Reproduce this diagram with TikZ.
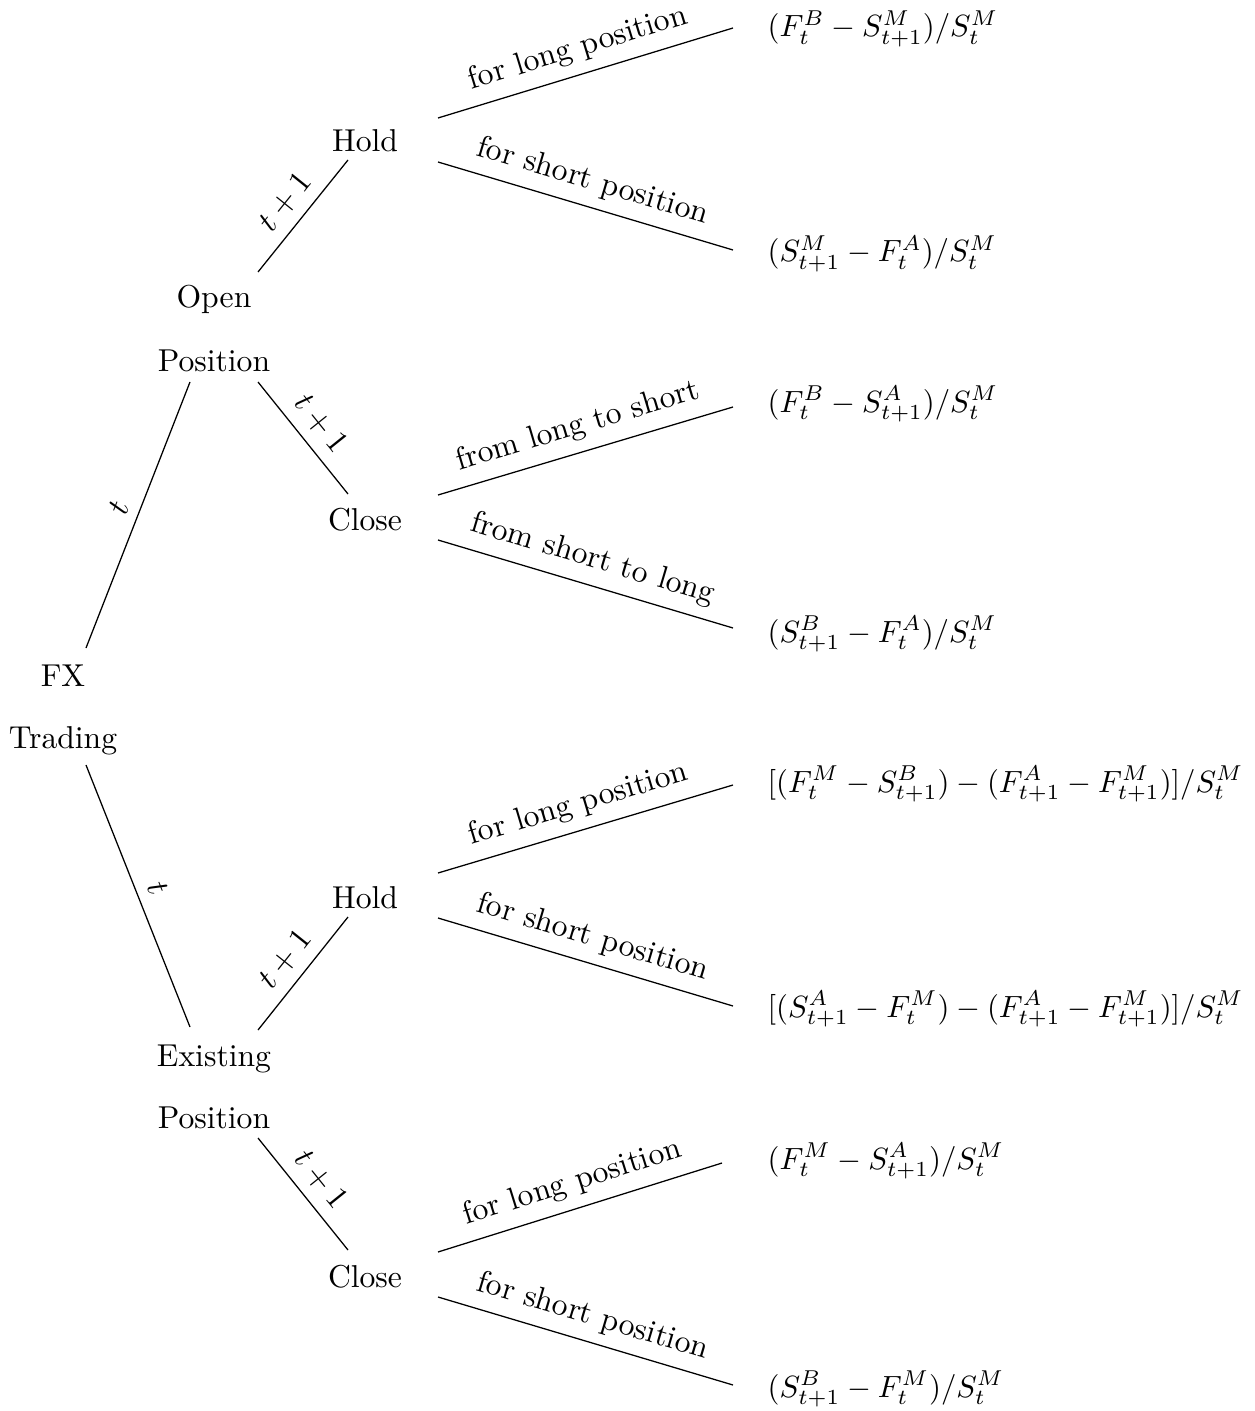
\documentclass[tikz,border=0pt]{standalone}
\usepackage{graphicx}
\newcommand{\lf}[1]{\scalebox{0.97}{$#1$}}
\begin{document}
\begin{tikzpicture}[x=0.316pt,y=-0.316pt,
  txt/.style={anchor=base,inner sep=0pt},
  leaf/.style={anchor=base west,inner sep=0pt},
  edge/.style={draw,line width=0.4pt},
  elab/.style={midway,above,sloped}]
\useasboundingbox (0,0) rectangle (1254,1411);
% inner nodes
\node[txt] (fx) at (63,686) {FX};
\node[txt] (trading) at (63,748) {Trading};
\node[txt] (open) at (214,308) {Open};
\node[txt] (openpos) at (214,372) {Position};
\node[txt] (exist) at (214,1066) {Existing};
\node[txt] (existpos) at (214,1128) {Position};
\node[txt] (hold1) at (365,152) {Hold};
\node[txt] (close1) at (365,530) {Close};
\node[txt] (hold2) at (365,908) {Hold};
\node[txt] (close2) at (365,1287) {Close};
% leaves
\node[leaf] (l1) at (767,37) {\lf{(F^B_t - S^M_{t+1})/S^M_t}};
\node[leaf] (l2) at (767,262) {\lf{(S^M_{t+1} - F^A_t)/S^M_t}};
\node[leaf] (l3) at (767,412) {\lf{(F^B_t - S^A_{t+1})/S^M_t}};
\node[leaf] (l4) at (767,642) {\lf{(S^B_{t+1} - F^A_t)/S^M_t}};
\node[leaf] (l5) at (767,792) {\lf{[(F^M_t - S^B_{t+1}) - (F^A_{t+1} - F^M_{t+1})]/S^M_t}};
\node[leaf] (l6) at (767,1017) {\lf{[(S^A_{t+1} - F^M_t) - (F^A_{t+1} - F^M_{t+1})]/S^M_t}};
\node[leaf] (l7) at (767,1169) {\lf{(F^M_t - S^A_{t+1})/S^M_t}};
\node[leaf] (l8) at (767,1397) {\lf{(S^B_{t+1} - F^M_t)/S^M_t}};
% connector end points
\coordinate (fxN) at (86,648);
\coordinate (trS) at (86,765);
\coordinate (openS) at (190,382);
\coordinate (openE) at (258,272);
\coordinate (openposE) at (258,382);
\coordinate (existN) at (190,1027);
\coordinate (existE) at (258,1030);
\coordinate (existposE) at (258,1138);
\coordinate (hold1W) at (348,160);
\coordinate (close1W) at (348,494);
\coordinate (hold2W) at (348,917);
\coordinate (close2W) at (348,1250);
\coordinate (hold1a) at (438,118);
\coordinate (hold1b) at (438,162);
\coordinate (close1a) at (438,495);
\coordinate (close1b) at (438,540);
\coordinate (hold2a) at (438,873);
\coordinate (hold2b) at (438,918);
\coordinate (close2a) at (438,1252);
\coordinate (close2b) at (438,1297);
\coordinate (l1W) at (733,28);
\coordinate (l2W) at (733,250);
\coordinate (l3W) at (733,407);
\coordinate (l4W) at (733,628);
\coordinate (l5W) at (733,785);
\coordinate (l6W) at (733,1006);
\coordinate (l7W) at (722,1163);
\coordinate (l8W) at (733,1385);
% connectors
\draw[edge] (fxN) -- node[elab] {$t$} (openS);
\draw[edge] (trS) -- node[elab] {$t$} (existN);
\draw[edge] (openE) -- node[elab] {$t+1$} (hold1W);
\draw[edge] (openposE) -- node[elab] {$t+1$} (close1W);
\draw[edge] (existE) -- node[elab] {$t+1$} (hold2W);
\draw[edge] (existposE) -- node[elab] {$t+1$} (close2W);
\draw[edge] (hold1a) -- node[elab] {for long position} (l1W);
\draw[edge] (hold1b) -- node[elab] {for short position} (l2W);
\draw[edge] (close1a) -- node[elab] {from long to short} (l3W);
\draw[edge] (close1b) -- node[elab] {from short to long} (l4W);
\draw[edge] (hold2a) -- node[elab] {for long position} (l5W);
\draw[edge] (hold2b) -- node[elab] {for short position} (l6W);
\draw[edge] (close2a) -- node[elab] {for long position} (l7W);
\draw[edge] (close2b) -- node[elab] {for short position} (l8W);
\end{tikzpicture}
\end{document}
